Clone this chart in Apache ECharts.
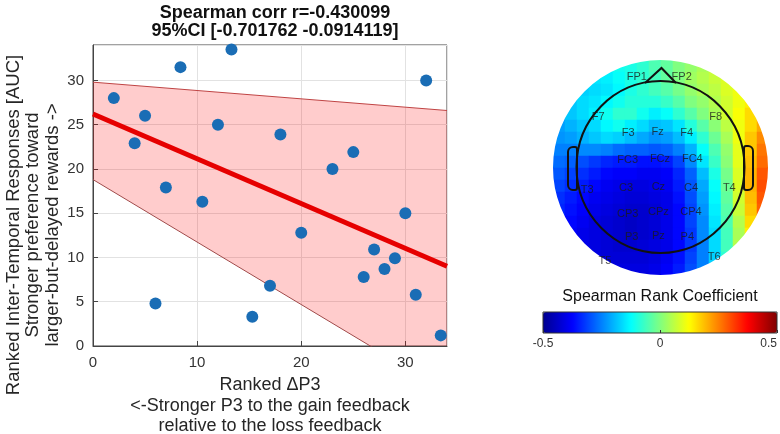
<!DOCTYPE html>
<html><head><meta charset="utf-8">
<script src="https://cdn.jsdelivr.net/npm/echarts@6/dist/echarts.min.js"></script>
<style>html,body{margin:0;padding:0;background:#fff}#c{width:780px;height:434px}</style>
</head><body><div id="c"></div>
<script>
// ---- scatter data (ranked values) ----
const rankedP3  = [2, 5, 4, 7, 6, 8.4, 13.3, 12, 10.5, 18, 17, 15.3, 20, 23, 25, 27, 26, 28, 29, 30, 31, 32, 33.4];
const rankedAUC = [28, 26, 22.9, 17.9, 4.8, 31.5, 33.5, 25, 16.3, 23.9, 6.8, 3.3, 12.8, 20, 21.9, 10.9, 7.8, 8.7, 9.9, 15, 5.8, 30, 1.2];
// ---- regression fit and 95% band ----
const fitX    = [0, 34];
const fitY    = [26.2, 9.0];
const ciLower = [18.8, -5.2];
const ciUpper = [29.8, 26.6];
// ---- axes ----
const xTickStep = 10, yTickStep = 5, axisMax = 34;
const topoRows = [
 [-14,-14,-14,-13,-12,-11,-10,-8,-5,-3,0,2,4,6,8,10,12,14],
 [-16,-16,-16,-15,-14,-12,-10,-8,-6,-3,0,3,5,7,9,11,13,15],
 [-17,-17,-17,-16,-15,-13,-10,-8,-6,-4,-1,2,4,6,9,11,14,17],
 [-19,-18,-16,-15,-13,-11,-9,-9,-9,-7,-4,0,2,5,8,11,14,18],
 [-20,-18,-16,-14,-11,-8,-8,-11,-14,-12,-8,-4,0,4,8,12,16,20],
 [-22,-20,-18,-16,-13,-11,-14,-16,-19,-18,-15,-9,-4,1,6,11,16,21],
 [-23,-22,-20,-18,-16,-17,-19,-21,-23,-22,-19,-14,-8,-2,4,11,18,24],
 [-25,-25,-24,-24,-25,-27,-28,-28,-29,-28,-25,-20,-12,-5,2,10,18,26],
 [-27,-28,-30,-32,-34,-35,-35,-36,-36,-35,-31,-24,-15,-7,1,10,19,27],
 [-29,-31,-33,-35,-37,-38,-38,-39,-39,-38,-34,-28,-19,-10,-1,9,20,29],
 [-31,-33,-35,-37,-39,-40,-41,-41,-40,-39,-35,-29,-21,-12,-2,9,20,30],
 [-33,-35,-37,-39,-40,-41,-42,-42,-41,-40,-36,-30,-22,-13,-3,8,19,29],
 [-34,-36,-38,-40,-41,-42,-43,-43,-42,-40,-37,-31,-23,-14,-4,7,18,28],
 [-35,-37,-39,-41,-42,-43,-44,-43,-42,-40,-37,-31,-24,-15,-5,5,16,26],
 [-36,-38,-40,-41,-42,-43,-44,-43,-42,-40,-37,-32,-24,-16,-6,4,14,24],
 [-37,-39,-40,-41,-42,-43,-43,-42,-41,-40,-37,-32,-25,-16,-6,5,14,22],
 [-38,-39,-40,-41,-42,-42,-42,-42,-41,-39,-36,-31,-25,-17,-8,2,11,20],
 [-38,-39,-40,-41,-41,-41,-41,-41,-40,-38,-35,-30,-25,-18,-10,0,8,18]
];
// ---- electrode labels (normalised head coordinates) ----
const electrodeNames = ['FP1','FP2','F7','F3','Fz','F4','F8','FC3','FCz','FC4','T3','C3','Cz','C4','T4','CP3','CPz','CP4','P3','Pz','P4','T5','T6'];
const electrodeU = [-0.22,0.197,-0.579,-0.30,-0.026,0.244,0.513,-0.305,-0.005,0.296,-0.681,-0.321,-0.02,0.284,0.64,-0.305,-0.02,0.284,-0.268,-0.02,0.249,-0.516,0.50];
const electrodeV = [0.845,0.845,0.473,0.324,0.333,0.324,0.473,0.07,0.076,0.076,-0.209,-0.193,-0.179,-0.193,-0.193,-0.433,-0.411,-0.411,-0.644,-0.637,-0.644,-0.867,-0.83];
// ---- colour bar ----
const cbMin = -0.5, cbMax = 0.5, cbStep = 0.5;
const jet = ['#00008f','#0000ff','#0080ff','#00ffff','#80ff80','#ffff00','#ff8000','#ff0000','#800000'];

const FONT = '"Liberation Sans", Arial, Helvetica, sans-serif';
const scatterData = rankedP3.map((x, i) => [x, rankedAUC[i]]);
const fitData = fitX.map((x, i) => [x, fitY[i]]);
const lowData = fitX.map((x, i) => [x, ciLower[i]]);
const upData = fitX.map((x, i) => [x, ciUpper[i]]);
const topoData = [];
topoRows.forEach((row, j) => row.forEach((v, i) => topoData.push([i, j, v / 100])));
const topoCats = topoRows[0].map((_, i) => String(i));
const elecData = electrodeNames.map((n, i) => ({name: n, value: [electrodeU[i], electrodeV[i]]}));

function renderBand(params, api) {
  const pts = [];
  for (let i = 0; i < fitX.length; i++) pts.push(api.coord([fitX[i], ciLower[i]]));
  for (let i = fitX.length - 1; i >= 0; i--) pts.push(api.coord([fitX[i], ciUpper[i]]));
  const cs = params.coordSys;
  return {
    type: 'polygon', shape: {points: pts},
    style: {fill: 'rgba(255,0,0,0.2)', stroke: null},
    clipPath: {type: 'rect', shape: {x: cs.x, y: cs.y, width: cs.width, height: cs.height}}
  };
}

const chart = echarts.init(document.getElementById('c'));
chart.setOption({
  animation: false,
  backgroundColor: '#fff',
  textStyle: {fontFamily: FONT},
  title: {
    text: 'Spearman corr r=-0.430099\n95%CI [-0.701762 -0.0914119]',
    left: 270, top: -1, textAlign: 'center',
    textStyle: {fontSize: 18, fontWeight: 'bold', color: '#111', lineHeight: 18, fontFamily: FONT}
  },
  grid: [
    {left: 93, top: 45, width: 354, height: 301, show: true, borderColor: '#444', borderWidth: 1, backgroundColor: 'transparent', containLabel: false, outerBoundsMode: 'none'},
    {left: 553, top: 60, width: 216, height: 216, containLabel: false, outerBoundsMode: 'none'},
    {left: 553, top: 60, width: 215, height: 215, containLabel: false, outerBoundsMode: 'none'},
    {left: 543, top: 312, width: 234, height: 21, show: true, borderColor: '#333', borderWidth: 1, z: 30, containLabel: false, outerBoundsMode: 'none'}
  ],
  xAxis: [
    {gridIndex: 0, type: 'value', min: 0, max: axisMax, interval: xTickStep,
     name: 'Ranked \u0394P3\n<-Stronger P3 to the gain feedback\nrelative to the loss feedback',
     nameLocation: 'middle', nameGap: 26,
     nameTextStyle: {fontSize: 18, color: '#262626', lineHeight: 20.5, fontFamily: FONT, verticalAlign: 'top'},
     axisLine: {lineStyle: {color: '#444'}},
     axisTick: {inside: true, length: 5, lineStyle: {color: '#444'}},
     axisLabel: {fontSize: 15, color: '#333', margin: 9, showMaxLabel: false, fontFamily: FONT},
     splitLine: {show: true, lineStyle: {color: '#e2e2e2'}}},
    {gridIndex: 1, type: 'category', data: topoCats, show: false},
    {gridIndex: 2, type: 'value', min: -1, max: 1, show: false},
    {gridIndex: 3, type: 'value', min: cbMin, max: cbMax, interval: cbStep, z: 30,
     axisLine: {show: false},
     axisTick: {inside: true, length: 3, lineStyle: {color: '#333'}},
     axisLabel: {fontSize: 12, color: '#333', margin: 5, fontFamily: FONT, alignMaxLabel: 'right'},
     splitLine: {show: false}}
  ],
  yAxis: [
    {gridIndex: 0, type: 'value', min: 0, max: axisMax, interval: yTickStep,
     axisLine: {show: true, lineStyle: {color: '#444'}},
     axisTick: {show: true, inside: true, length: 5, lineStyle: {color: '#444'}},
     axisLabel: {fontSize: 15, color: '#333', margin: 9, showMaxLabel: false, fontFamily: FONT},
     splitLine: {show: true, lineStyle: {color: '#e2e2e2'}}},
    {gridIndex: 1, type: 'category', data: topoCats, inverse: true, show: false},
    {gridIndex: 2, type: 'value', min: -1, max: 1, show: false},
    {gridIndex: 3, type: 'value', show: false}
  ],
  visualMap: {
    type: 'continuous', seriesIndex: 5, min: cbMin, max: cbMax,
    orient: 'horizontal', left: 543, top: 312, itemWidth: 21, itemHeight: 234,
    calculable: false, hoverLink: false, padding: 0, text: null, z: 25,
    inRange: {color: jet}
  },
  series: [
    {type: 'custom', name: 'ci95', renderItem: renderBand, data: [[fitX[0], fitY[0]]], clip: true, z: 1, silent: true},
    {type: 'line', name: 'ciLow', data: lowData, symbol: 'none',
     lineStyle: {color: '#a04a4a', width: 1}, z: 3, silent: true},
    {type: 'line', name: 'ciUp', data: upData, symbol: 'none',
     lineStyle: {color: '#c04444', width: 1}, z: 3, silent: true},
    {type: 'line', name: 'fit', data: fitData, symbol: 'none',
     lineStyle: {color: '#e60000', width: 5}, z: 4, silent: true},
    {type: 'scatter', name: 'subjects', data: scatterData, symbolSize: 12,
     itemStyle: {color: '#1a6db5', opacity: 1}, z: 5},
    {type: 'heatmap', name: 'topo', xAxisIndex: 1, yAxisIndex: 1, data: topoData, z: 2, silent: true},
    {type: 'scatter', name: 'electrodes', xAxisIndex: 2, yAxisIndex: 2, data: elecData,
     symbolSize: 1, itemStyle: {color: 'transparent'}, z: 20, silent: true,
     label: {show: true, position: 'inside', formatter: '{b}', fontSize: 11, color: '#1a1a1a', fontFamily: FONT}}
  ],
  graphic: [
    {type: 'circle', shape: {cx: 660.5, cy: 167.5, r: 132.5}, style: {fill: 'none', stroke: '#fff', lineWidth: 50}, z: 10, silent: true},
    {type: 'ellipse', shape: {cx: 660.5, cy: 167, rx: 84, ry: 86}, style: {fill: 'none', stroke: '#111', lineWidth: 2}, z: 15, silent: true},
    {type: 'polyline', shape: {points: [[645, 83], [661.5, 68], [676, 83]]}, style: {fill: 'none', stroke: '#111', lineWidth: 2}, z: 15, silent: true},
    {type: 'rect', shape: {x: 568, y: 147, width: 9, height: 43, r: [5, 2, 2, 5]}, style: {fill: 'none', stroke: '#111', lineWidth: 2}, z: 15, silent: true},
    {type: 'rect', shape: {x: 744, y: 146, width: 9, height: 44, r: [2, 5, 5, 2]}, style: {fill: 'none', stroke: '#111', lineWidth: 2}, z: 15, silent: true},
    {type: 'text', x: 33, y: 225, rotation: Math.PI / 2, z: 30, silent: true,
     style: {text: 'Ranked Inter-Temporal Responses [AUC]\nStronger preference toward\nlarger-but-delayed rewards ->',
       font: '18.5px ' + FONT, fill: '#262626', textAlign: 'center', textVerticalAlign: 'middle', lineHeight: 19.5}},
    {type: 'text', x: 660, y: 297, z: 30, silent: true,
     style: {text: 'Spearman Rank Coefficient', font: '16px ' + FONT, fill: '#111', textAlign: 'center', textVerticalAlign: 'middle'}}
  ]
});
</script></body></html>
